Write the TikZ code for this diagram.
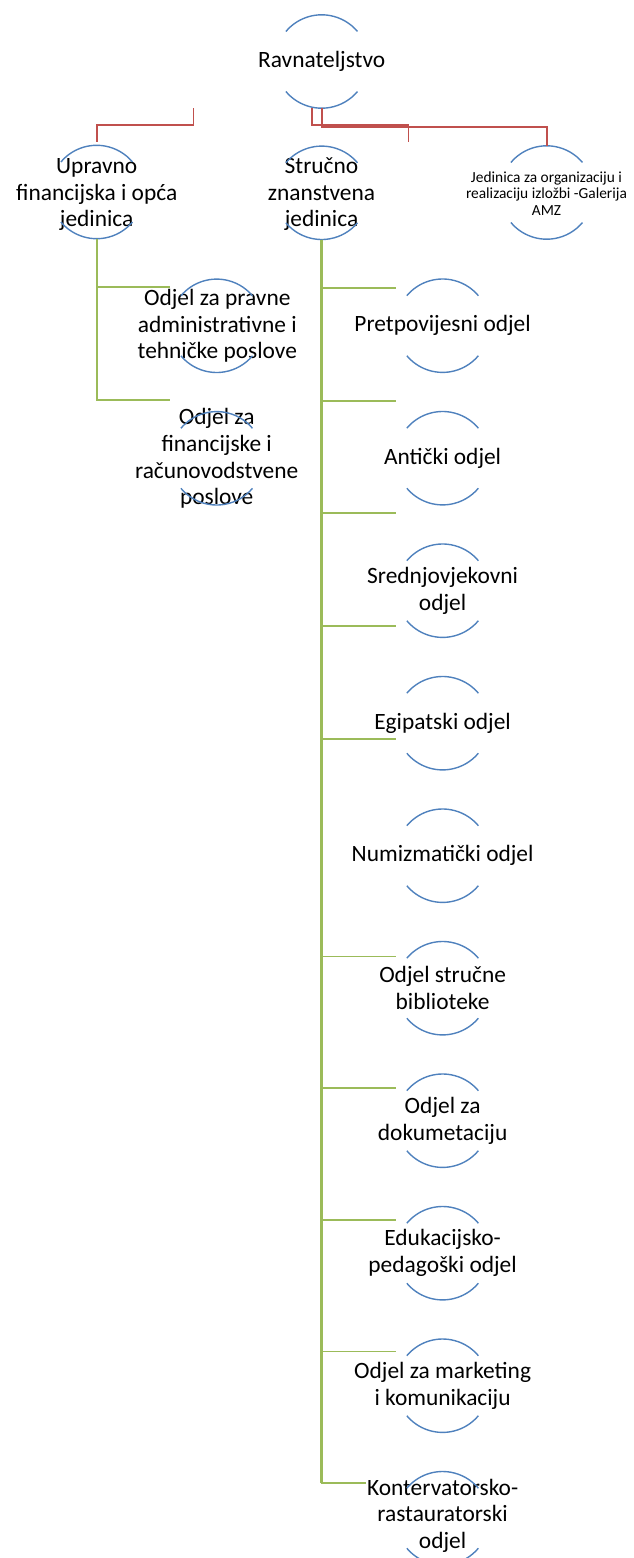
\documentclass[tikz,border=0pt]{standalone}
\usepackage{fontspec}
\setmainfont{Carlito}
\usepackage{tikz}
\definecolor{ringblue}{RGB}{79,129,189}
\definecolor{linkred}{RGB}{192,80,77}
\definecolor{linkgreen}{RGB}{155,187,89}
\tikzset{
  ring/.style={circle, minimum size=93.4pt, inner sep=0pt, outer sep=0pt},
  ringarc/.style={draw=ringblue, line width=1.4pt},
  unittext/.style={align=center, inner sep=0pt,
    font=\fontsize{23.4}{26.7}\selectfont},
  smalltext/.style={align=center, inner sep=0pt,
    font=\fontsize{15.4}{16.4}\selectfont},
  redlink/.style={draw=linkred, line width=1.6pt},
  greenlink/.style={draw=linkgreen, line width=1.6pt}
}

\begin{document}
\begin{tikzpicture}[x=1pt,y=-1pt]
          \useasboundingbox (0,0) rectangle (633,1558);
          % top level
          \node[ring] (ravn) at (321.7,61.5) {};
          \node[unittext] (ravn-t) at (ravn) {Ravnateljstvo};
          \node[ring] (upravno) at (96.7,192) {};
          \node[unittext] (upravno-t) at (96.7,194.5) {Upravno\\financijska i opća\\jedinica};
          \node[ring] (strucno) at (321.7,192.8) {};
          \node[unittext] (strucno-t) at (321.5,194.2) {Stručno\\znanstvena\\jedinica};
          \node[ring] (galerija) at (546.7,192.5) {};
          \node[smalltext] (galerija-t) at (546.5,193.6) {Jedinica za organizaciju i\\realizaciju izložbi -Galerija\\AMZ};
          \coordinate (stubL) at (193.3,108.3);
          \coordinate (stubR) at (408.3,141.7);
          % left branch
          \node[ring] (pravni) at (216.7,325.8) {};
          \node[unittext] (pravni-t) at (217.3,326) {Odjel za pravne\\administrativne i\\tehničke poslove};
          \node[ring] (financ) at (216.7,458.3) {};
          \node[unittext] (financ-t) at (216.7,458.5) {Odjel za\\financijske i\\računovodstvene\\poslove};
          % right branch
          \node[ring] (pretpov) at (442.6,325.7) {};
          \node[unittext] (pretpov-t) at (pretpov) {Pretpovijesni odjel};
          \node[ring] (anticki) at (442.6,458.2) {};
          \node[unittext] (anticki-t) at (anticki) {Antički odjel};
          \node[ring] (srednjo) at (442.6,590.7) {};
          \node[unittext] (srednjo-t) at (srednjo) {Srednjovjekovni\\odjel};
          \node[ring] (egipat) at (442.6,723.2) {};
          \node[unittext] (egipat-t) at (egipat) {Egipatski odjel};
          \node[ring] (numiz) at (442.6,855.7) {};
          \node[unittext] (numiz-t) at (numiz) {Numizmatički odjel};
          \node[ring] (knjiz) at (442.6,988.2) {};
          \node[unittext] (knjiz-t) at (knjiz) {Odjel stručne\\biblioteke};
          \node[ring] (dokum) at (442.6,1120.7) {};
          \node[unittext] (dokum-t) at (dokum) {Odjel za\\dokumetaciju};
          \node[ring] (eduk) at (442.6,1253.2) {};
          \node[unittext] (eduk-t) at (eduk) {Edukacijsko-\\pedagoški odjel};
          \node[ring] (market) at (442.6,1385.7) {};
          \node[unittext] (market-t) at (market) {Odjel za marketing\\i komunikaciju};
          \node[ring] (konz) at (442.6,1518.2) {};
          \node[unittext] (konz-t) at (442.6,1515.6) {Kontervatorsko-\\rastauratorski\\odjel};
          % open rings: top and bottom arcs only
          \foreach \n in {ravn,upravno,strucno,galerija,pravni,financ,pretpov,anticki,
              srednjo,egipat,numiz,knjiz,dokum,eduk,market,konz} {
            \draw[ringarc] ([shift={(140:46.7pt)}]\n.center) arc[start angle=140, end angle=40, radius=46.7pt];
            \draw[ringarc] ([shift={(220:46.7pt)}]\n.center) arc[start angle=220, end angle=320, radius=46.7pt];
          }
          % red links
          \draw[redlink] (stubL) -- ++(0,16.7) -| ([yshift=3.6pt]upravno.north);
          \draw[redlink] ([xshift=-10pt]ravn.south) -- ++(0,16.7) -| (stubR);
          \draw[redlink] (ravn.south) -- ++(0,19) -| (galerija.north);
          % green links
          \draw[greenlink, line width=2pt] (upravno.south) |- ([yshift=38.5pt]pravni.west);
          \draw[greenlink, line width=2pt] (upravno.south) |- ([yshift=58.3pt]financ.west);
          \foreach \dept/\lift in {pretpov/38, anticki/57.5, srednjo/78, egipat/97.5,
              numiz/116.7, knjiz/31.6, dokum/32.5, eduk/33.4, market/34.3}
            \draw[greenlink] (strucno.south) |- ([yshift=\lift pt]\dept.west);
          \draw[greenlink] (strucno.south) |- ([yshift=35.2pt,xshift=-30pt]konz.west);
          \coordinate (trunkend) at ([yshift=35.2pt]konz.west);
          \draw[greenlink, line width=2.6pt] (strucno.south) -- (strucno.south |- trunkend);
        \end{tikzpicture}
\end{document}
